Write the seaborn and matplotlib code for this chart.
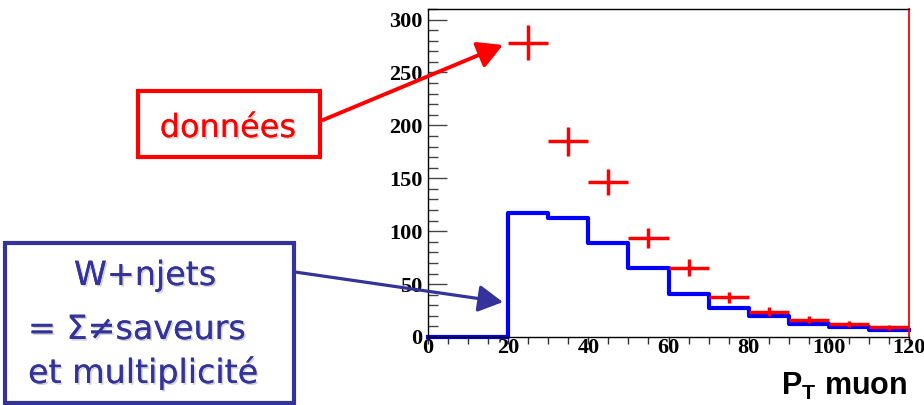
import numpy as np
import pandas as pd
import matplotlib
matplotlib.use("Agg")
import matplotlib.pyplot as plt
import matplotlib.patheffects as pe
from matplotlib.patches import Rectangle
from matplotlib.ticker import MultipleLocator
import seaborn as sns

# --- histogram content -------------------------------------------------
bin_low = [0, 10, 20, 30, 40, 50, 60, 70, 80, 90, 100, 110]
bin_width = 10
wjets_counts = [0, 0, 117, 112, 88.5, 65, 41, 27.5, 19.5, 12.5, 9.5, 6.5]

data_pt = [25, 35, 45, 55, 65, 75, 85, 95, 105, 115]
data_counts = [278, 185, 146.5, 93.5, 65.5, 37.5, 24, 16.5, 12.5, 9]
data_errors = [16.5, 13.5, 12, 9.5, 8, 5.5, 4.5, 3.5, 2.8, 2.3]

x_range = (0, 120)
y_range = (0, 310)

W, H = 924, 405
plt.rcParams["mathtext.fontset"] = "custom"
plt.rcParams["mathtext.rm"] = "Liberation Sans"
plt.rcParams["mathtext.bf"] = "Liberation Sans:bold"

fig = plt.figure(figsize=(W / 100, H / 100), dpi=100)
fig.patch.set_facecolor("white")
ax = fig.add_axes([428 / W, 1 - 337 / H, (909 - 428) / W, (337 - 9) / H])

# W+jets prediction as a step histogram
edges = bin_low + [bin_low[-1] + bin_width]
df = pd.DataFrame({"pt": [b + bin_width / 2 for b in bin_low], "n": wjets_counts})
sns.histplot(data=df, x="pt", weights="n", bins=edges, element="step",
             fill=False, color="#0000ff", linewidth=3.0, ax=ax)
for ln in ax.lines:
    ln.set_clip_on(False)

# data points with statistical errors
ax.errorbar(data_pt, data_counts, xerr=bin_width / 2, yerr=data_errors,
            fmt="none", ecolor="#ff0000", elinewidth=2.5, capsize=0, zorder=4)

ax.set_xlim(*x_range)
ax.set_ylim(*y_range)
ax.set_xlabel("")
ax.set_ylabel("")

# axis cosmetics
ax.xaxis.set_major_locator(MultipleLocator(20))
ax.xaxis.set_minor_locator(MultipleLocator(5))
ax.yaxis.set_major_locator(MultipleLocator(50))
ax.yaxis.set_minor_locator(MultipleLocator(10))
ax.tick_params(axis="x", which="both", direction="out", length=5, width=1,
               color="#333333", pad=-4)
ax.tick_params(axis="y", which="major", direction="in", length=14, width=1,
               color="#444444", pad=4)
ax.tick_params(axis="y", which="minor", direction="in", length=7, width=1,
               color="#444444")
for lab in ax.get_xticklabels() + ax.get_yticklabels():
    lab.set_fontfamily("Liberation Serif")
    lab.set_fontweight("bold")
    lab.set_fontsize(16)
for side in ("top", "left", "bottom"):
    ax.spines[side].set_color("black")
    ax.spines[side].set_linewidth(1)
ax.spines["right"].set_color("#ff0000")
ax.spines["right"].set_linewidth(1.3)

# x axis title
fig.text(907 / W, 10 / H, r"$\mathbf{P_{T}}$ muon", ha="right", va="baseline",
         fontsize=22, fontweight="bold", family="Liberation Sans")

shadow = [pe.withSimplePatchShadow(offset=(1.2, -1.2), shadow_rgbFace="gray",
                                   alpha=0.35), pe.Normal()]

# "données" label box and arrow
red = "#ff0000"
fig.add_artist(Rectangle((137.5 / W, 1 - 157.5 / H), (320 - 137.5) / W, 66 / H,
                         transform=fig.transFigure, fill=False,
                         edgecolor=red, linewidth=3))
fig.text(228 / W, 1 - 137 / H, "données", ha="center", va="baseline",
         color=red, fontsize=23, family="DejaVu Sans", path_effects=shadow)
ax.annotate("", xy=(18.7, 276), xycoords="data",
            xytext=(323, H - 120), textcoords="figure pixels",
            annotation_clip=False,
            arrowprops=dict(arrowstyle="-|>,head_length=1.0,head_width=0.55",
                            mutation_scale=15, color=red, lw=2.8,
                            shrinkA=0, shrinkB=0))

# "W+njets" label box and arrow
navy = "#333399"
fig.add_artist(Rectangle((5 / W, 1 - 403 / H), (294 - 5) / W, (403 - 243) / H,
                         transform=fig.transFigure, fill=False,
                         edgecolor=navy, linewidth=3))
fig.text(145 / W, 1 - 285 / H, "W+njets", ha="center", va="baseline",
         color=navy, fontsize=24, family="DejaVu Sans", path_effects=shadow)
fig.text(28 / W, 1 - 339 / H, "= \u03a3\u2260saveurs", ha="left", va="baseline",
         color=navy, fontsize=24, family="DejaVu Sans", path_effects=shadow)
fig.text(28 / W, 1 - 383 / H, "et multiplicité", ha="left", va="baseline",
         color=navy, fontsize=24, family="DejaVu Sans", path_effects=shadow)
ax.annotate("", xy=(18.7, 33), xycoords="data",
            xytext=(295, H - 272), textcoords="figure pixels",
            annotation_clip=False,
            arrowprops=dict(arrowstyle="-|>,head_length=1.0,head_width=0.55",
                            mutation_scale=15, color=navy, lw=2.3,
                            shrinkA=0, shrinkB=0))

fig.savefig("out.png", dpi=100, facecolor="white")
